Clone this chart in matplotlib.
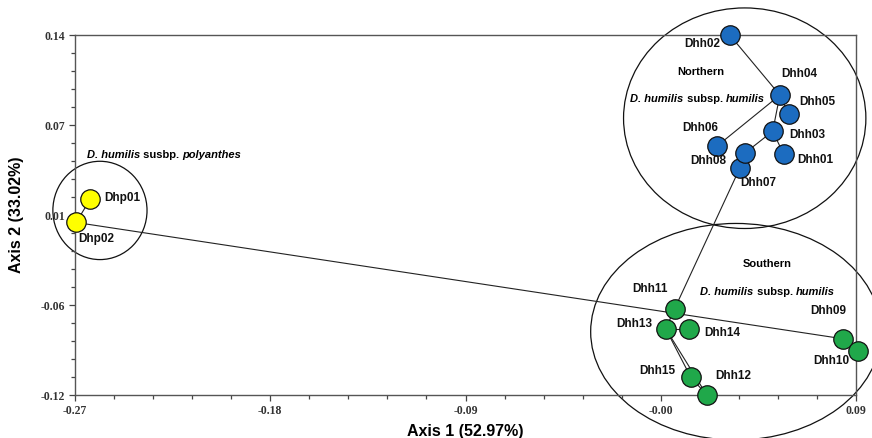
#!/usr/bin/env python3

# PCoA plot of D. humilis accessions with minimum spanning tree and group ellipses

import matplotlib.pyplot as plt
import numpy as np
from matplotlib.offsetbox import AnnotationBbox, HPacker, TextArea
from matplotlib.patches import Ellipse
from matplotlib.ticker import FixedLocator, AutoMinorLocator

plt.rcParams["font.family"] = ["Liberation Sans", "DejaVu Sans"]

# samples: name, axis 1, axis 2, group
names = ["Dhp01", "Dhp02",
         "Dhh01", "Dhh02", "Dhh03", "Dhh04", "Dhh05", "Dhh06", "Dhh07", "Dhh08",
         "Dhh09", "Dhh10", "Dhh11", "Dhh12", "Dhh13", "Dhh14", "Dhh15"]
axis1 = [-0.263, -0.2695,
         0.0567, 0.0318, 0.0516, 0.0549, 0.0590, 0.0258, 0.0364, 0.0387,
         0.0840, 0.0909, 0.0064, 0.0212, 0.0023, 0.0129, 0.0138]
axis2 = [0.0213, 0.0046,
         0.0538, 0.1400, 0.0705, 0.0966, 0.0828, 0.0596, 0.0437, 0.0546,
         -0.0794, -0.0880, -0.0577, -0.1200, -0.0722, -0.0722, -0.1070]
groups = ["poly", "poly",
          "north", "north", "north", "north", "north", "north", "north", "north",
          "south", "south", "south", "south", "south", "south", "south"]

# minimum spanning tree edges
edges = [("Dhp01", "Dhp02"), ("Dhp02", "Dhh09"), ("Dhh09", "Dhh10"),
         ("Dhh02", "Dhh04"), ("Dhh04", "Dhh05"), ("Dhh04", "Dhh06"),
         ("Dhh04", "Dhh03"), ("Dhh03", "Dhh01"), ("Dhh03", "Dhh08"),
         ("Dhh08", "Dhh07"), ("Dhh07", "Dhh11"), ("Dhh11", "Dhh13"),
         ("Dhh13", "Dhh14"), ("Dhh13", "Dhh15"), ("Dhh13", "Dhh12"),
         ("Dhh15", "Dhh12")]

# group ellipses: center x, center y, width, height (data units)
ellipses = [(-0.2585, 0.0133, 0.0434, 0.071),
            (0.0387, 0.0799, 0.1117, 0.1593),
            (0.0346, -0.0743, 0.1338, 0.1564)]

x_ticks = [-0.27, -0.18, -0.09, 0.00, 0.09]
x_ticklabels = ["-0.27", "-0.18", "-0.09", "-0.00", "0.09"]
y_ticklabels = ["-0.12", "-0.06", "0.01", "0.07", "0.14"]

colors = {"poly": "#ffff00", "north": "#1c6cc0", "south": "#20a84a"}

# label offsets in pixels (dx, dy downwards) and alignment
label_offsets = {
    "Dhp01": (14, -1, "left"), "Dhp02": (20, 17, "center"),
    "Dhh01": (32, 6, "center"), "Dhh02": (-27, 9, "center"),
    "Dhh03": (35, 4, "center"), "Dhh04": (19, -21, "center"),
    "Dhh05": (29, -12, "center"), "Dhh06": (-17, -18, "center"),
    "Dhh07": (19, 15, "center"), "Dhh08": (-36, 8, "center"),
    "Dhh09": (-15, -28, "center"), "Dhh10": (-27, 10, "center"),
    "Dhh11": (-25, -20, "center"), "Dhh12": (27, -19, "center"),
    "Dhh13": (-31, -5, "center"), "Dhh14": (34, 4, "center"),
    "Dhh15": (-33, -6, "center"),
}


def group_label(ax, xy, parts, size=8):
    """Place a label made of bold / bold-italic parts at the given data point."""
    boxes = [TextArea(t, textprops=dict(fontsize=size, fontweight="bold",
                                        fontstyle="italic" if it else "normal"))
             for t, it in parts]
    pack = HPacker(children=boxes, pad=0, sep=0, align="baseline")
    ab = AnnotationBbox(pack, xy, frameon=False, box_alignment=(0.5, 0.5),
                        annotation_clip=False)
    ax.add_artist(ab)


def main():
    fig = plt.figure(figsize=(8.72, 4.38), dpi=100)
    ax = fig.add_axes([75 / 872, 43 / 438, 781 / 872, 360 / 438])

    pos = {n: (x, y) for n, x, y in zip(names, axis1, axis2)}

    # tree
    for a, b in edges:
        ax.plot([pos[a][0], pos[b][0]], [pos[a][1], pos[b][1]],
                color="#222222", lw=0.8, zorder=2, clip_on=False)

    # ellipses
    for cx, cy, w, h in ellipses:
        ax.add_patch(Ellipse((cx, cy), w, h, fill=False, edgecolor="#111111",
                             lw=0.9, zorder=1, clip_on=False))

    # points
    for n, x, y, g in zip(names, axis1, axis2, groups):
        ax.plot(x, y, "o", ms=14, mfc=colors[g], mec="#111111", mew=0.9,
                zorder=3, clip_on=False)
        dx, dy, ha = label_offsets[n]
        ax.annotate(n, (x, y), xytext=(dx * 0.72, -dy * 0.72),
                    textcoords="offset points", ha=ha, va="center",
                    fontsize=8.5, fontweight="bold", color="#111111",
                    annotation_clip=False, zorder=4)

    # group labels
    ax.text(0.0184, 0.1132, "Northern", fontsize=8, fontweight="bold",
            ha="center", va="center")
    group_label(ax, (0.0170, 0.0937),
                [("D. humilis", True), (" subsp. ", False), ("humilis", True)])
    ax.text(0.0493, -0.0251, "Southern", fontsize=8, fontweight="bold",
            ha="center", va="center")
    group_label(ax, (0.0493, -0.0454),
                [("D. humilis", True), (" subsp. ", False), ("humilis", True)])
    group_label(ax, (-0.2289, 0.0531),
                [("D. humilis", True), (" susbp. ", False), ("polyanthes", True)])

    # axes
    ax.set_xlim(-0.27, 0.09)
    ax.set_ylim(-0.12, 0.14)
    ax.xaxis.set_major_locator(FixedLocator(x_ticks))
    ax.set_xticklabels(x_ticklabels)
    ax.yaxis.set_major_locator(FixedLocator(np.linspace(-0.12, 0.14, 5)))
    ax.set_yticklabels(y_ticklabels)
    ax.xaxis.set_minor_locator(AutoMinorLocator(5))
    ax.yaxis.set_minor_locator(AutoMinorLocator(5))
    ax.tick_params(which="both", direction="out", color="#444444", width=0.9,
                   top=False, right=False)
    ax.tick_params(which="major", length=4, pad=3)
    ax.tick_params(which="minor", length=3)
    for lbl in ax.get_xticklabels() + ax.get_yticklabels():
        lbl.set_fontfamily("Liberation Serif")
        lbl.set_fontweight("bold")
        lbl.set_fontsize(8.5)
        lbl.set_color("#333333")
    for side in ["left", "bottom", "top", "right"]:
        ax.spines[side].set_color("#555555")
        ax.spines[side].set_linewidth(1.0)

    ax.set_xlabel("Axis 1 (52.97%)", fontsize=11.5, fontweight="bold", labelpad=5)
    ax.set_ylabel("Axis 2 (33.02%)", fontsize=11.5, fontweight="bold", labelpad=12)

    fig.savefig("out.png", dpi=100)


if __name__ == "__main__":
    main()
